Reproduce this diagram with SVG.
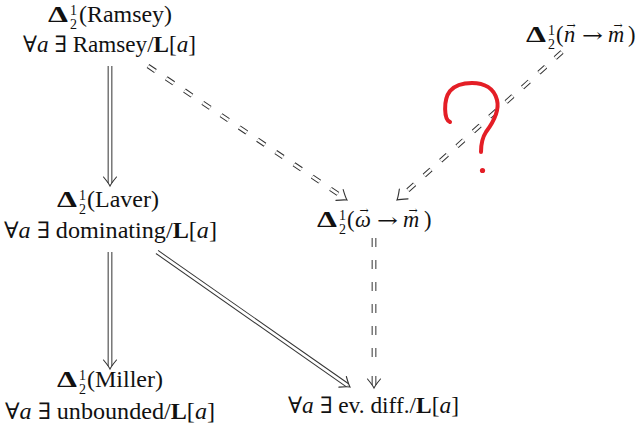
<svg xmlns="http://www.w3.org/2000/svg" xmlns:xlink="http://www.w3.org/1999/xlink" width="640" height="428" viewBox="0 0 640 428">
<style>
text{font-family:"Liberation Serif","DejaVu Serif",serif;font-size:22.5px;fill:#111}
.d{font-weight:bold}
.s{font-size:14px}
.i{font-style:italic}
.b{font-weight:bold}
.ar{font-family:"DejaVu Serif","Liberation Serif",serif;font-size:20px}
.vec{font-family:"DejaVu Serif","Liberation Serif",serif;font-size:11px;text-anchor:middle}
.o{fill:none;stroke:#333;stroke-width:4.7}
.w{fill:none;stroke:#fff;stroke-width:2.7}
.dash{stroke-dasharray:9 13}
.hd{fill:none;stroke:#333;stroke-width:1.1;stroke-linecap:round}
</style>
<defs>
<path id="head" d="M-9,-6.5 Q-3,-1.5 0,0 Q-3,1.5 -9,6.5"/>
</defs>
<rect width="640" height="428" fill="#fff"/>
<g id="connectors">
<path class="o" d="M110,66 V183"/><path class="w" d="M110,65 V183"/>
<use href="#head" class="hd" transform="translate(110,186) rotate(90)"/>
<path class="o" d="M110,252 V366"/><path class="w" d="M110,251 V366"/>
<use href="#head" class="hd" transform="translate(110,369) rotate(90)"/>
<path class="o" d="M157,252 L347.5,385.3"/><path class="w" d="M156.2,251.4 L347.5,385.3"/>
<use href="#head" class="hd" transform="translate(350,387) rotate(35)"/>
<path class="o dash" d="M148,66 L344.5,198.3"/><path class="w dash" d="M148,66 L344.5,198.3"/>
<use href="#head" class="hd" transform="translate(347,200) rotate(34)"/>
<path class="o dash" d="M562,52 L399.2,198"/><path class="w dash" d="M562,52 L399.2,198"/>
<use href="#head" class="hd" transform="translate(397,200) rotate(138.1)"/>
<path class="o dash" d="M374,238 V370"/><path class="w dash" d="M374,238 V370"/>
<path class="o" d="M374,376 V385"/><path class="w" d="M374,375 V385"/>
<use href="#head" class="hd" transform="translate(374,388) rotate(90)"/>
</g>
<g id="ramsey">
<text class="d" x="48" y="22" textLength="20" lengthAdjust="spacingAndGlyphs">Δ</text>
<text class="s" x="70" y="15">1</text><text class="s" x="70" y="29">2</text>
<text x="79" y="22" textLength="93" lengthAdjust="spacingAndGlyphs">(Ramsey)</text>
<text x="23" y="52" textLength="173" lengthAdjust="spacingAndGlyphs">∀<tspan class="i">a</tspan> ∃ Ramsey/<tspan class="b">L</tspan>[<tspan class="i">a</tspan>]</text>
</g>
<g id="laver">
<text class="d" x="57" y="207" textLength="20" lengthAdjust="spacingAndGlyphs">Δ</text>
<text class="s" x="79" y="200">1</text><text class="s" x="79" y="214">2</text>
<text x="87" y="207" textLength="72" lengthAdjust="spacingAndGlyphs">(Laver)</text>
<text x="4" y="238" textLength="213" lengthAdjust="spacingAndGlyphs">∀<tspan class="i">a</tspan> ∃ dominating/<tspan class="b">L</tspan>[<tspan class="i">a</tspan>]</text>
</g>
<g id="miller">
<text class="d" x="57" y="387" textLength="20" lengthAdjust="spacingAndGlyphs">Δ</text>
<text class="s" x="79" y="380">1</text><text class="s" x="79" y="394">2</text>
<text x="87" y="387" textLength="76" lengthAdjust="spacingAndGlyphs">(Miller)</text>
<text x="5" y="419" textLength="210" lengthAdjust="spacingAndGlyphs">∀<tspan class="i">a</tspan> ∃ unbounded/<tspan class="b">L</tspan>[<tspan class="i">a</tspan>]</text>
</g>
<g id="omega">
<text class="d" x="317" y="227" textLength="20" lengthAdjust="spacingAndGlyphs">Δ</text>
<text class="s" x="339" y="220">1</text><text class="s" x="339" y="234">2</text>
<text x="347" y="227">(</text>
<text class="i" x="355" y="227">ω</text>
<text class="ar" x="377" y="227" textLength="21" lengthAdjust="spacingAndGlyphs">→</text>
<text class="i" x="403" y="227">m</text>
<text x="424" y="227">)</text>
<text class="vec" x="364" y="214">→</text>
<text class="vec" x="413" y="214">→</text>
</g>
<g id="nm">
<text class="d" x="526" y="42" textLength="20" lengthAdjust="spacingAndGlyphs">Δ</text>
<text class="s" x="548" y="35">1</text><text class="s" x="548" y="49">2</text>
<text x="556" y="42">(</text>
<text class="i" x="564" y="42">n</text>
<text class="ar" x="582" y="42" textLength="21" lengthAdjust="spacingAndGlyphs">→</text>
<text class="i" x="608" y="42">m</text>
<text x="628" y="42">)</text>
<text class="vec" x="571" y="29">→</text>
<text class="vec" x="618" y="29">→</text>
</g>
<g id="evdiff">
<text x="288" y="413" textLength="171" lengthAdjust="spacingAndGlyphs">∀<tspan class="i">a</tspan> ∃ ev. diff./<tspan class="b">L</tspan>[<tspan class="i">a</tspan>]</text>
</g>
<g id="question">
<path d="M450,122 C444,120 443,100 450,91 C456,84 464,83 472,83 C484,83 494,88 497,100 C500,112 492,124 486,132 C482,138 481,145 481,152" fill="none" stroke="#e41e26" stroke-width="4" stroke-linecap="round"/>
<circle cx="482.5" cy="170.5" r="2.6" fill="#e41e26"/>
</g>
</svg>
